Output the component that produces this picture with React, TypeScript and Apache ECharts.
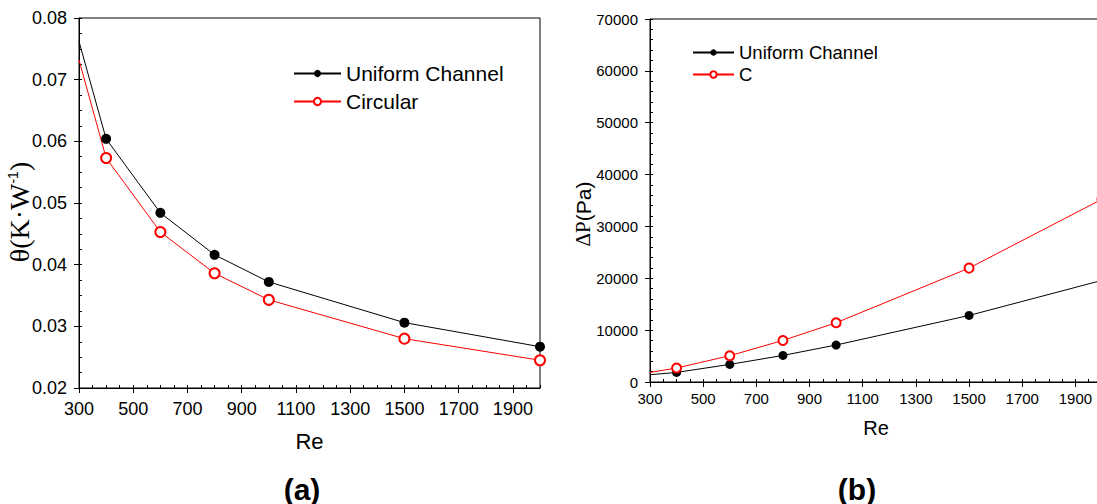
import React, { useEffect, useRef } from "react";
import * as echarts from "echarts";

// ---------- data ----------
const reValues = [300, 400, 600, 800, 1000, 1500, 2000];
const thetaUniform = [0.0762, 0.0604, 0.0484, 0.0416, 0.0372, 0.0306, 0.0267];
const thetaCircular = [0.0732, 0.0573, 0.0453, 0.0386, 0.0343, 0.028, 0.0245];
const dpUniform = [1400, 1850, 3390, 5125, 7130, 12830, 19600];
const dpC = [1850, 2700, 5070, 8015, 11425, 21965, 35250];

const reTickLabels = [300, 500, 700, 900, 1100, 1300, 1500, 1700, 1900];
const thetaTicks = [0.02, 0.03, 0.04, 0.05, 0.06, 0.07, 0.08];
const dpTicks = [0, 10000, 20000, 30000, 40000, 50000, 60000, 70000];

const legendA = ["Uniform Channel", "Circular"];
const legendB = ["Uniform Channel", "C"];

// ---------- styles ----------
const SANS = "'Liberation Sans', Arial, Helvetica, sans-serif";
const SERIF = "'Liberation Serif', 'Times New Roman', serif";
const BLACK = "#000000";
const RED = "#ff0000";
const axisLine = { color: BLACK, width: 1 };

function toPoints(xs: number[], ys: number[]) {
  // the first point (on the left axis) is drawn without a marker, as in the figure
  return xs.map((x, i) =>
    i === 0 ? { value: [x, ys[i]], symbol: "none" } : [x, ys[i]]
  );
}

function mainX(gridIndex: number, fontSize: number, margin: number, nameSize: number, nameGap: number) {
  return {
    gridIndex,
    type: "value",
    min: 300,
    max: 2000,
    position: "bottom",
    axisLine: { show: true, onZero: false, lineStyle: axisLine },
    axisTick: { show: true, inside: false, length: 5, customValues: reTickLabels, lineStyle: axisLine },
    axisLabel: {
      customValues: reTickLabels,
      fontSize,
      color: BLACK,
      fontFamily: SANS,
      margin,
      formatter: (v: number) => String(v),
    },
    splitLine: { show: false },
    name: "Re",
    nameLocation: "middle",
    nameGap,
    nameTextStyle: { fontSize: nameSize, color: BLACK, fontFamily: SANS },
  };
}

function minorAxis(gridIndex: number, min: number, max: number, interval: number, position: string) {
  return {
    gridIndex,
    type: "value",
    min,
    max,
    interval,
    position,
    axisLine: { show: false },
    axisTick: { show: true, inside: true, length: 3, lineStyle: axisLine },
    axisLabel: { show: false },
    splitLine: { show: false },
  };
}

export default function App() {
  const ref = useRef<HTMLDivElement>(null);

  useEffect(() => {
    if (!ref.current) return;
    const chart = echarts.init(ref.current, null, { renderer: "svg" });

    const option: any = {
      animation: false,
      backgroundColor: "#ffffff",
      grid: [
        { left: 79, top: 18, width: 461, height: 370, show: true, borderColor: BLACK, borderWidth: 1, containLabel: false },
        // the figure is cropped: panel (b) extends a little beyond the right edge of the picture
        { left: 650, top: 19, width: 452, height: 363, show: true, borderColor: BLACK, borderWidth: 1, containLabel: false },
      ],
      xAxis: [
        mainX(0, 18, 12, 22, 42),
        minorAxis(0, 300, 2000, 50, "bottom"),
        mainX(1, 15, 9, 20, 36),
        minorAxis(1, 300, 2000, 50, "bottom"),
      ],
      yAxis: [
        {
          gridIndex: 0,
          type: "value",
          min: 0.02,
          max: 0.08,
          position: "left",
          axisLine: { show: true, onZero: false, lineStyle: axisLine },
          axisTick: { show: true, inside: false, length: 5, customValues: thetaTicks, lineStyle: axisLine },
          axisLabel: {
            customValues: thetaTicks,
            fontSize: 18,
            color: BLACK,
            fontFamily: SANS,
            margin: 12,
            formatter: (v: number) => v.toFixed(2),
          },
          splitLine: { show: false },
        },
        minorAxis(0, 0.02, 0.08, 0.0025, "left"),
        {
          gridIndex: 1,
          type: "value",
          min: 0,
          max: 70000,
          position: "left",
          axisLine: { show: true, onZero: false, lineStyle: axisLine },
          axisTick: { show: true, inside: false, length: 5, customValues: dpTicks, lineStyle: axisLine },
          axisLabel: {
            customValues: dpTicks,
            fontSize: 15,
            color: BLACK,
            fontFamily: SANS,
            margin: 12,
            formatter: (v: number) => String(v),
          },
          splitLine: { show: false },
        },
        minorAxis(1, 0, 70000, 2000, "left"),
      ],
      legend: [
        {
          data: legendA,
          orient: "vertical",
          left: 288,
          top: 58,
          itemWidth: 47,
          itemHeight: 9,
          itemGap: 7,
          selectedMode: false,
          textStyle: { fontSize: 21, lineHeight: 20, color: BLACK, fontFamily: SANS },
        },
        {
          data: legendB,
          orient: "vertical",
          left: 687,
          top: 38,
          itemWidth: 41,
          itemHeight: 8,
          itemGap: 3,
          selectedMode: false,
          textStyle: { fontSize: 18.5, lineHeight: 18.5, color: BLACK, fontFamily: SANS },
        },
      ],
      series: [
        {
          name: legendA[0],
          type: "line",
          xAxisIndex: 0,
          yAxisIndex: 0,
          data: toPoints(reValues, thetaUniform),
          symbol: "circle",
          symbolSize: 10,
          itemStyle: { color: BLACK },
          lineStyle: { color: BLACK, width: 1 },
        },
        {
          name: legendA[1],
          type: "line",
          xAxisIndex: 0,
          yAxisIndex: 0,
          data: toPoints(reValues, thetaCircular),
          symbol: "emptyCircle",
          symbolSize: 10,
          itemStyle: { color: RED, borderWidth: 1 },
          lineStyle: { color: RED, width: 1 },
        },
        {
          name: legendB[0],
          type: "line",
          xAxisIndex: 2,
          yAxisIndex: 2,
          data: toPoints(reValues, dpUniform),
          symbol: "circle",
          symbolSize: 9,
          itemStyle: { color: BLACK },
          lineStyle: { color: BLACK, width: 1 },
        },
        {
          name: legendB[1],
          type: "line",
          xAxisIndex: 2,
          yAxisIndex: 2,
          data: toPoints(reValues, dpC),
          symbol: "emptyCircle",
          symbolSize: 9,
          itemStyle: { color: RED, borderWidth: 1 },
          lineStyle: { color: RED, width: 1 },
        },
      ],
      graphic: [
        {
          type: "text",
          x: 18,
          y: 212,
          rotation: Math.PI / 2,
          style: {
            text: "{a|θ(K·W}{b|-1}{a|)}",
            align: "center",
            verticalAlign: "middle",
            fill: BLACK,
            rich: {
              a: { fontSize: 28, fontFamily: SERIF, fill: BLACK, lineHeight: 30, verticalAlign: "bottom" },
              b: { fontSize: 14, fontFamily: SANS, fill: BLACK, lineHeight: 30, verticalAlign: "top", padding: [3, 0, 0, 0] },
            },
          },
        },
        {
          type: "text",
          x: 583,
          y: 214,
          rotation: Math.PI / 2,
          style: {
            text: "{a|ΔP}{b|(Pa)}",
            align: "center",
            verticalAlign: "middle",
            fill: BLACK,
            rich: {
              a: { fontSize: 21, fontFamily: SERIF, fill: BLACK },
              b: { fontSize: 21, fontFamily: SANS, fill: BLACK },
            },
          },
        },
        {
          type: "text",
          x: 302,
          y: 489,
          style: { text: "(a)", align: "center", verticalAlign: "middle", fontSize: 30, fontWeight: "bold", fontFamily: SANS, fill: BLACK },
        },
        {
          type: "text",
          x: 857,
          y: 489,
          style: { text: "(b)", align: "center", verticalAlign: "middle", fontSize: 30, fontWeight: "bold", fontFamily: SANS, fill: BLACK },
        },
      ],
    };

    chart.setOption(option);
    return () => chart.dispose();
  }, []);

  return (
    <div
      style={{ position: "absolute", left: 0, top: 0, width: 1097, height: 504, overflow: "hidden", background: "#fff" }}
    >
      <div ref={ref} style={{ width: 1112, height: 504 }} />
    </div>
  );
}
